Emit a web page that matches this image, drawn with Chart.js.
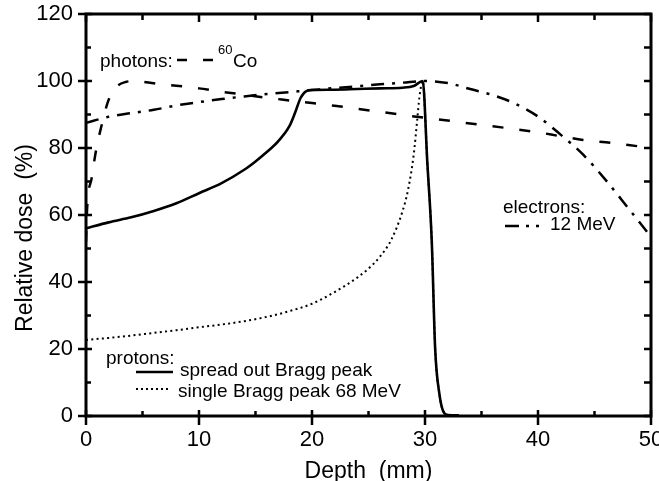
<!DOCTYPE html>
<html>
<head>
<meta charset="utf-8">
<script src="https://cdn.jsdelivr.net/npm/chart.js@4.4.0/dist/chart.umd.min.js"></script>
<style>
  html, body { margin: 0; padding: 0; background: #fff; }
</style>
</head>
<body>
<canvas id="chart" width="659" height="481"></canvas>
<script>
// Depth-dose curves (depth in mm, dose in %)
const photonDepth = [0, 0.1, 0.5, 0.9, 1.4, 1.9, 2.3, 2.8, 3.5, 4.3, 5, 6, 8, 10, 12, 14, 16, 18, 20, 22, 24, 26, 28, 30, 32, 34, 36, 38, 40, 42, 44, 46, 48, 50];
const photonDose  = [52, 62, 71, 79.5, 87, 93.4, 96.5, 98.6, 99.7, 100, 99.8, 99.3, 98.6, 97.8, 96.8, 95.9, 95, 94.2, 93.4, 92.6, 91.7, 90.8, 89.9, 89, 88.2, 87.3, 86.5, 85.6, 84.7, 83.5, 82.4, 81.7, 80.9, 80];

const electronDepth = [0, 2, 4, 6, 8, 10, 12, 14, 16, 18, 20, 22, 24, 26, 28, 30, 32, 34, 36, 38, 40, 42, 44, 46, 48, 50];
const electronDose  = [87.5, 89.3, 90.4, 91.4, 92.7, 93.7, 94.6, 95.4, 96.1, 96.7, 97.3, 97.9, 98.4, 99, 99.5, 100, 99.4, 97.6, 95.8, 93.2, 89.4, 84, 78, 70.4, 62, 53.5];

const sobpDepth = [0, 2, 4, 6, 8, 10, 12, 14, 15, 16, 17, 18, 18.5, 19, 19.5, 20, 22, 24, 26, 28, 29, 29.8, 30.2, 30.6, 30.9, 31.3, 31.6, 32, 33];
const sobpDose  = [56, 57.8, 59.3, 61.2, 63.5, 66.5, 69.5, 73.5, 76, 78.8, 82, 86.5, 90.5, 95, 97, 97.3, 97.4, 97.6, 97.8, 98, 98.5, 100, 76, 52, 20, 6, 1.5, 0.3, 0.2];

const braggDepth = [0, 2, 4, 6, 8, 10, 12, 14, 16, 18, 20, 22, 24, 25, 26, 27, 28, 28.5, 29, 29.3, 29.5, 29.8, 30.2, 30.6, 30.9, 31.3, 31.6, 32];
const braggDose  = [22.7, 23.3, 24, 24.8, 25.6, 26.5, 27.3, 28.3, 29.6, 31.3, 33.5, 37, 41.3, 44, 47.5, 52.5, 61, 67.5, 78, 88, 95, 100, 76, 52, 20, 6, 1.5, 0.3];

const xTicks = [0, 10, 20, 30, 40, 50];
const yTicks = [0, 20, 40, 60, 80, 100, 120];

const FONT = '"Liberation Sans", Arial, Helvetica, sans-serif';

function toPoints(xs, ys) {
    return xs.map((x, i) => ({ x: x, y: ys[i] }));
}

// frame, tick marks, axis titles and the in-plot notes
const decorations = {
    id: 'decorations',
    afterDraw(chart) {
        const ctx = chart.ctx;
        const a = chart.chartArea;
        const xs = chart.scales.x;
        const ys = chart.scales.y;
        ctx.save();
        ctx.strokeStyle = '#000';
        ctx.fillStyle = '#000';
        ctx.lineCap = 'butt';

        // ticks
        ctx.lineWidth = 2.5;
        ctx.beginPath();
        for (let v = 0; v <= 50; v += 5) {
            const px = xs.getPixelForValue(v);
            if (v % 10 === 0) {
                ctx.moveTo(px, a.bottom + 9); ctx.lineTo(px, a.bottom - 6);
                ctx.moveTo(px, a.top); ctx.lineTo(px, a.top + 8);
            } else {
                ctx.moveTo(px, a.bottom); ctx.lineTo(px, a.bottom - 5);
                ctx.moveTo(px, a.top); ctx.lineTo(px, a.top + 6);
            }
        }
        for (let v = 0; v <= 120; v += 10) {
            const py = ys.getPixelForValue(v);
            if (v % 20 === 0) {
                ctx.moveTo(a.left - 8, py); ctx.lineTo(a.left + 6, py);
            } else {
                ctx.moveTo(a.left, py); ctx.lineTo(a.left + 5, py);
            }
            ctx.moveTo(a.right, py); ctx.lineTo(a.right - 7, py);
        }
        ctx.stroke();

        // frame
        ctx.lineWidth = 3;
        ctx.strokeRect(a.left, a.top, a.right - a.left, a.bottom - a.top);

        // axis titles
        ctx.textBaseline = 'alphabetic';
        ctx.textAlign = 'center';
        ctx.font = '23px ' + FONT;
        ctx.fillText('Depth  (mm)', (a.left + a.right) / 2, 478);
        ctx.save();
        ctx.translate(32, 238);
        ctx.rotate(-Math.PI / 2);
        ctx.fillText('Relative dose  (%)', 0, 0);
        ctx.restore();

        // notes
        ctx.textAlign = 'left';
        ctx.font = '19px ' + FONT;
        ctx.fillText('photons:', 100, 67);
        ctx.fillText('Co', 233, 67);
        ctx.fillText('electrons:', 503, 213);
        ctx.fillText('12 MeV', 550, 230);
        ctx.fillText('protons:', 106, 364);
        ctx.fillText('spread out Bragg peak', 180, 376);
        ctx.fillText('single Bragg peak 68 MeV', 178, 397);
        ctx.font = '13px ' + FONT;
        ctx.fillText('60', 218, 54);

        // line samples
        ctx.lineWidth = 2.5;
        ctx.setLineDash([10, 16]);
        ctx.beginPath(); ctx.moveTo(177, 60); ctx.lineTo(213, 60); ctx.stroke();
        ctx.setLineDash([14, 7, 3, 7, 3, 30]);
        ctx.beginPath(); ctx.moveTo(505, 226); ctx.lineTo(545, 226); ctx.stroke();
        ctx.setLineDash([]);
        ctx.beginPath(); ctx.moveTo(136, 372); ctx.lineTo(173, 372); ctx.stroke();
        ctx.lineWidth = 2;
        ctx.setLineDash([2, 3]);
        ctx.beginPath(); ctx.moveTo(136, 389); ctx.lineTo(168, 389); ctx.stroke();
        ctx.restore();
    }
};

const lineBase = {
    borderColor: '#000',
    backgroundColor: '#000',
    pointRadius: 0,
    fill: false,
    cubicInterpolationMode: 'monotone',
    borderCapStyle: 'butt'
};

const ctx = document.getElementById('chart').getContext('2d');
const chart = new Chart(ctx, {
    type: 'line',
    data: {
        datasets: [
            Object.assign({}, lineBase, {
                label: 'photons 60Co',
                data: toPoints(photonDepth, photonDose),
                borderWidth: 2.5,
                borderDash: [11, 16]
            }),
            Object.assign({}, lineBase, {
                label: 'electrons 12 MeV',
                data: toPoints(electronDepth, electronDose),
                borderWidth: 2.5,
                borderDash: [13, 8, 3, 8]
            }),
            Object.assign({}, lineBase, {
                label: 'single Bragg peak 68 MeV',
                data: toPoints(braggDepth, braggDose),
                borderWidth: 2,
                borderDash: [2, 3.3]
            }),
            Object.assign({}, lineBase, {
                label: 'spread out Bragg peak',
                data: toPoints(sobpDepth, sobpDose),
                borderWidth: 2.6
            })
        ]
    },
    options: {
        responsive: false,
        animation: false,
        layout: { padding: { top: 14, right: 8, bottom: 0, left: 0 } },
        plugins: {
            legend: { display: false },
            tooltip: { enabled: false }
        },
        scales: {
            x: {
                type: 'linear',
                min: 0,
                max: 50,
                afterBuildTicks: s => { s.ticks = xTicks.map(v => ({ value: v })); },
                afterFit: s => { s.height = 65; s.paddingLeft = 0; s.paddingRight = 0; },
                ticks: { color: '#000', padding: 11, font: { family: FONT, size: 22 }, maxRotation: 0 },
                grid: { display: false, drawTicks: false },
                border: { display: false }
            },
            y: {
                min: 0,
                max: 120,
                afterBuildTicks: s => { s.ticks = yTicks.map(v => ({ value: v })); },
                afterFit: s => { s.width = 86; s.paddingTop = 0; s.paddingBottom = 0; },
                ticks: { color: '#000', padding: 13, font: { family: FONT, size: 22 } },
                grid: { display: false, drawTicks: false },
                border: { display: false }
            }
        }
    },
    plugins: [decorations]
});
</script>
</body>
</html>
